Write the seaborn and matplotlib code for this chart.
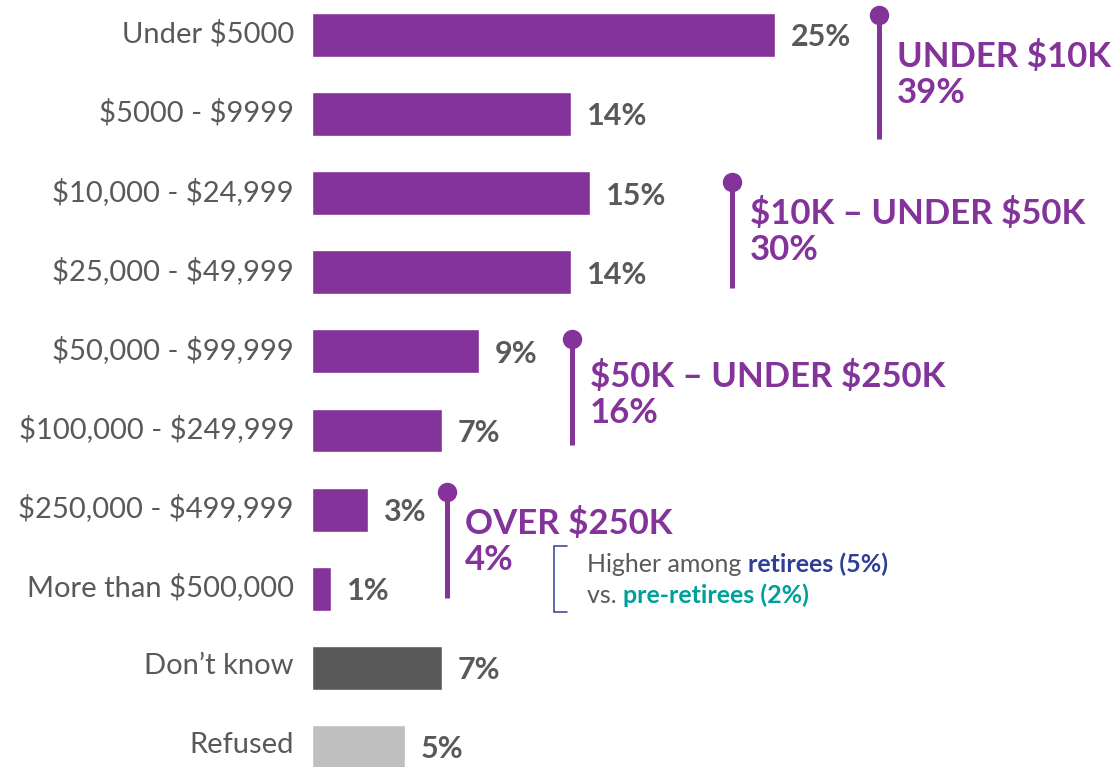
import matplotlib
matplotlib.use("Agg")
import matplotlib.pyplot as plt
from matplotlib.transforms import ScaledTranslation
import seaborn as sns
import pandas as pd

# Household income distribution
categories = [
    "Under $5000", "$5000 - $9999", "$10,000 - $24,999", "$25,000 - $49,999",
    "$50,000 - $99,999", "$100,000 - $249,999", "$250,000 - $499,999",
    "More than $500,000", "Don\u2019t know", "Refused",
]
values = [25, 14, 15, 14, 9, 7, 3, 1, 7, 5]

# Income bands that group the rows above
group_labels = ["UNDER $10K", "$10K \u2013 UNDER $50K", "$50K \u2013 UNDER $250K", "OVER $250K"]
group_totals = [39, 30, 16, 4]
group_rows = [(0, 1), (2, 3), (4, 5), (6, 7)]

note_plain = ["Higher among ", "vs. "]
note_bold = ["retirees (5%)", "pre-retirees (2%)"]

PURPLE = "#833399"
DARK = "#595959"
LIGHT = "#BFBFBF"
BLUE = "#2F3E96"
TEAL = "#00A09A"
bar_colors = [PURPLE] * 8 + [DARK, LIGHT]

sns.set_theme(style="white")
plt.rcParams["font.family"] = ["Lato", "DejaVu Sans"]
plt.rcParams["text.parse_math"] = False

W, H = 1118, 767
fig = plt.figure(figsize=(W / 100, H / 100), dpi=100)
ax_left = 312
ax = fig.add_axes([ax_left / W, 0, (W - ax_left) / W, 1])

df = pd.DataFrame({"category": categories, "value": values})
sns.barplot(data=df, x="value", y="category", hue="category", palette=bar_colors,
            legend=False, orient="h", width=0.556, saturation=1, ax=ax)

PX_PER_UNIT = 18.5
ROW_PX = 79.1
FIRST_ROW_PX = 35
ax.set_xlim(0, (W - ax_left) / PX_PER_UNIT)
ax.set_ylim((H - FIRST_ROW_PX) / ROW_PX, -FIRST_ROW_PX / ROW_PX)

def dx(px):
    return px / PX_PER_UNIT

def dy(px):
    return px / ROW_PX

for s in ax.spines.values():
    s.set_visible(False)
ax.set_xticks([])
ax.set_xlabel("")
ax.set_ylabel("")
ax.tick_params(axis="y", length=0, pad=13, labelsize=21, labelcolor=DARK)
lift = ScaledTranslation(0, 4 / 100, fig.dpi_scale_trans)
for lbl in ax.get_yticklabels():
    lbl.set_transform(lbl.get_transform() + lift)

# value labels
for i, v in enumerate(values):
    ax.text(v + dx(16), i + 0.03, f"{v}%", ha="left", va="center",
            fontsize=22, fontweight="bold", color=DARK)

# group brackets: line x, dot offset, bottom offset, line-1 baseline offset (px)
group_line_x = [879, 732, 572, 447]
group_dot_off = [-20, -11, -12, -18]
group_bot_off = [25, 16, 15, 9]
group_base_off = [32, 31, 36, 24]
for k, (lab, tot, (r0, r1)) in enumerate(zip(group_labels, group_totals, group_rows)):
    x = dx(group_line_x[k] - ax_left)
    y_top = r0 + dy(group_dot_off[k])
    y_bot = r1 + dy(group_bot_off[k])
    ax.plot([x, x], [y_top, y_bot], color=PURPLE, lw=3.6, solid_capstyle="butt")
    ax.plot([x], [y_top], marker="o", ms=13, color=PURPLE, mec=PURPLE)
    tx = x + dx(18)
    yb = r0 + dy(group_base_off[k])
    ax.text(tx, yb, lab, ha="left", va="baseline", fontsize=25,
            fontweight="bold", color=PURPLE)
    ax.text(tx, yb + dy(36), f"{tot}%", ha="left", va="baseline", fontsize=25,
            fontweight="bold", color=PURPLE)

# side note with square bracket
bx = dx(554 - ax_left)
by0 = 6 + dy(545 - 509)
by1 = 6 + dy(611 - 509)
ax.plot([bx + dx(13), bx, bx, bx + dx(13)], [by0, by0, by1, by1],
        color=BLUE, lw=1.1, solid_joinstyle="miter")
nx = dx(587 - ax_left)
bold_colors = [BLUE, TEAL]
for j in range(2):
    ny = 6 + dy((571 if j == 0 else 602) - 509)
    t = ax.text(nx, ny, note_plain[j], ha="left", va="baseline", fontsize=18,
                color=DARK)
    ax.annotate(note_bold[j], xy=(1, 0), xycoords=t, ha="left", va="bottom",
                fontsize=18, fontweight="bold", color=bold_colors[j])

fig.savefig("out.png", dpi=100)
